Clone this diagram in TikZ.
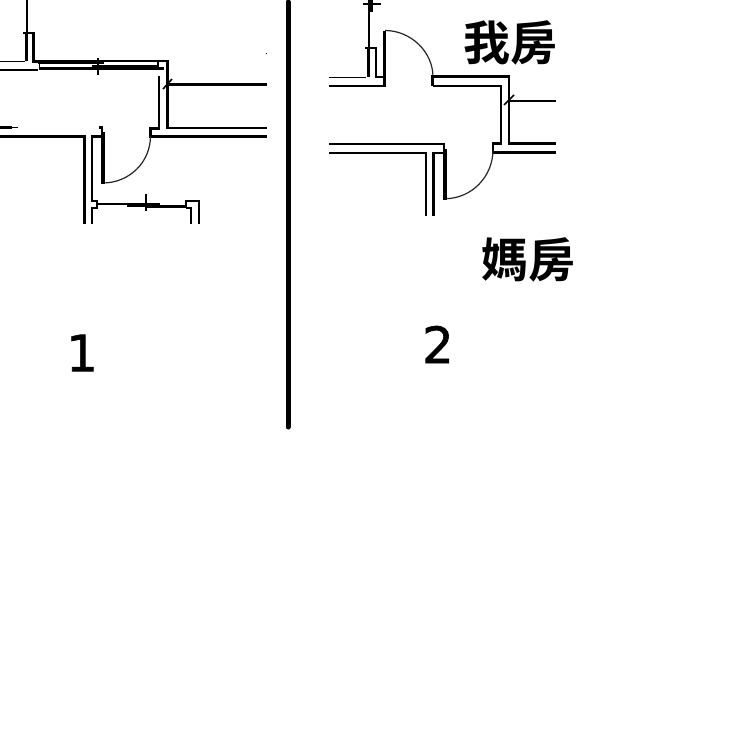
\documentclass[tikz,border=0pt]{standalone}
\usepackage{fontspec}
\newfontfamily\cjkfont{Noto Sans CJK TC}[BoldFont={* Bold}]
\newfontfamily\numfont{DejaVu Sans}[FakeBold=1.2]
\tikzset{
  wall/.style={line width=2.6pt,line cap=butt,line join=miter,black},
  heavy/.style={line width=3.6pt,line cap=butt,black},
  fine/.style={line width=1.6pt,black},
  swing/.style={line width=1.2pt,black!85},
  label/.style={inner sep=0pt,font=\cjkfont\bfseries\fontsize{47}{47}\selectfont},
  number/.style={inner sep=0pt,font=\numfont\fontsize{50}{50}\selectfont}
}
\begin{document}
\begin{tikzpicture}[x=1pt,y=-1pt]
\useasboundingbox (0,0) rectangle (744,755);
\fill[white] (0,0) rectangle (744,755);
% ---------- plan 1 ----------
\draw[wall] (27,0) -- (27,33);
\draw[heavy] (26.5,33) -- (26.5,61);
\draw[fine] (23,32.7) -- (33.5,32.7);
\draw[wall] (33.5,32) -- (33.5,61.5) -- (38,61.5);
\draw[fine] (0,61.5) -- (25,61.5);
\draw[wall] (0,70) -- (38,70);
\draw[fine] (39.5,62) -- (39.5,69);
\draw[heavy] (38,62) -- (104,62);
\draw[wall] (104,61) -- (167.3,61) -- (167.3,128) -- (267,128);
\draw[wall] (92,66) -- (158,66);
\draw[wall] (39,68.6) -- (158,68.6);
\draw[wall] (158,61) -- (158,68.6) -- (164,68.6);
\draw[wall] (98,58) -- (98,75);
\draw[wall] (167,84.7) -- (267,84.7);
\draw[fine] (163,89) -- (172,79);
\draw[wall] (159,76) -- (159,128.5) -- (150.5,128.5) -- (150.5,136.7) -- (267,136.7);
\draw[swing] (150.5,136) .. controls (150.5,162.5) and (129,183) .. (102.7,183);
% lower part of plan 1
\draw[wall] (0,127.5) -- (12,127.5);
\draw[fine] (12,127.5) -- (18,127.5);
\draw[wall] (0,136.7) -- (84.3,136.7) -- (84.3,224);
\draw[heavy] (102.7,132) -- (102.7,184);
\draw[wall] (99,127.7) -- (102,127.7) -- (102,133);
\draw[wall] (102,136.7) -- (92,136.7) -- (92,201) -- (97,201) -- (97,208) -- (92,208) -- (92,224);
\draw[wall] (97,204) -- (160,204);
\draw[fine] (127,205.8) -- (160,205.8);
\draw[wall] (146,206.7) -- (186,206.7);
\draw[wall] (146,194) -- (146,211);
\draw[wall] (186,208) -- (186,201) -- (199,201) -- (199,224);
\draw[wall] (186,208) -- (191,208) -- (191,224);
\fill[black] (265.5,52.5) rectangle (266.5,53.5);
% ---------- divider ----------
\draw[line width=5pt,line cap=round,black] (288,2) -- (288,427);
% ---------- plan 2 ----------
\draw[wall] (369,0) -- (369,48);
\draw[wall] (363,4) -- (381,4);
\draw[wall] (371.7,0) -- (371.7,12);
\draw[heavy] (368.3,48) -- (368.3,77);
\draw[fine] (365,48) -- (376.5,48);
\draw[wall] (376,48) -- (376,77) -- (385,77);
\draw[fine] (329,77.3) -- (366,77.3);
\draw[wall] (329,86) -- (384,86);
\draw[heavy] (384.5,30.5) -- (384.5,87);
\draw[swing] (385,30.5) .. controls (411,30.5) and (433,52) .. (433,77);
\draw[wall] (432.7,86) -- (432.7,76.7) -- (509,76.7) -- (509,143.7) -- (556,143.7);
\draw[wall] (432.7,86) -- (501,86) -- (501,143.7) -- (493,143.7) -- (493,152.4) -- (556,152.4);
\draw[wall] (509,101) -- (556,101);
\draw[fine] (504,105) -- (514,95);
\draw[swing] (493,150) .. controls (493,176) and (472,198.7) .. (445,198.7);
\draw[heavy] (445,149) -- (445,200);
\draw[wall] (329,144) -- (444,144) -- (444,150);
\draw[wall] (329,152.8) -- (425.8,152.8) -- (425.8,215.7);
\draw[wall] (444,152.8) -- (433.7,152.8) -- (433.7,215.7);
% ---------- labels ----------
\node[label] (mine) at (510,43) {我房};
\node[label] (mum) at (528.5,260) {媽房};
\node[number] (one) at (82,353) {1};
\node[number] (two) at (438,344.5) {2};
\end{tikzpicture}
\end{document}
